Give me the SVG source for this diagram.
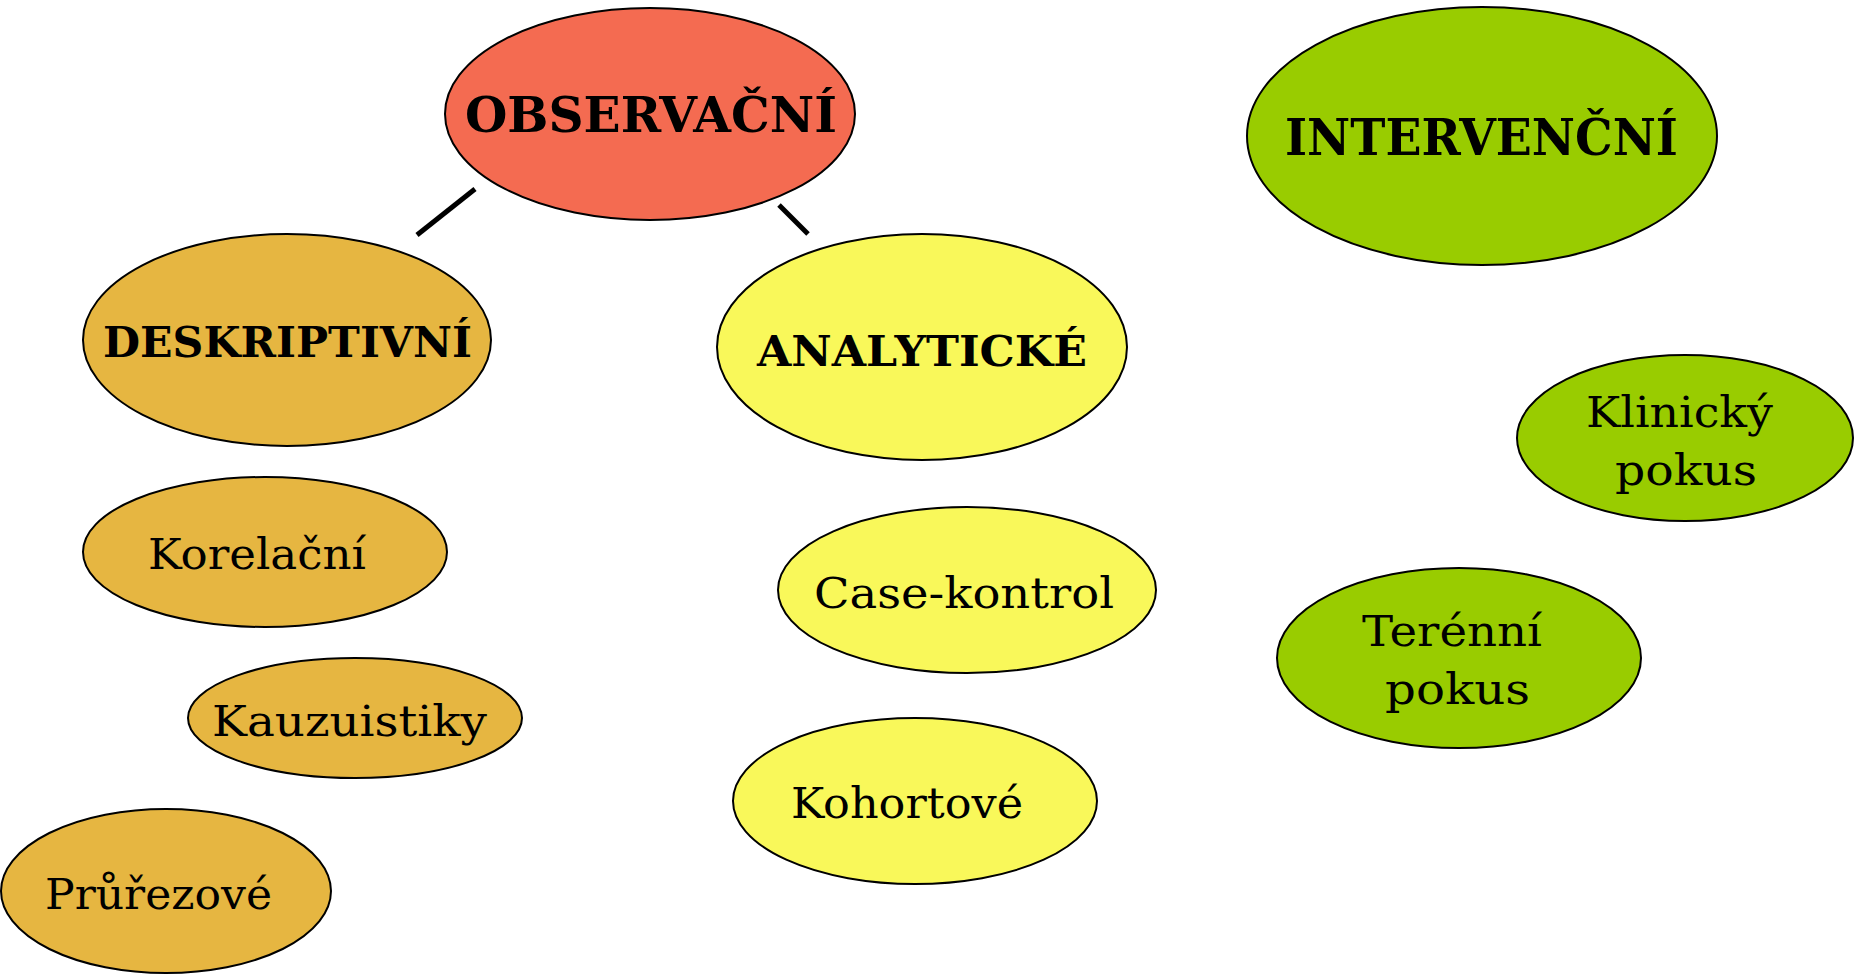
<svg xmlns="http://www.w3.org/2000/svg" width="1861" height="974" viewBox="0 0 1861 974">
<style>
.n{stroke:#000;stroke-width:2}
.red{fill:#F46B51}
.grn{fill:#99CC00}
.gold{fill:#E6B641}
.yel{fill:#F9F85A}
.b{font-family:"DejaVu Serif","Liberation Serif",serif;font-weight:bold;fill:#000}
.r{font-family:"DejaVu Serif","Liberation Serif",serif;font-size:42px;fill:#000}
.c{stroke:#000;stroke-width:5;fill:none}
</style>
<rect width="1861" height="974" fill="#fff"/>
<g id="connectors">
<line class="c" x1="475" y1="189" x2="417" y2="235"/>
<line class="c" x1="779" y1="205" x2="808" y2="234"/>
</g>
<g id="observacni">
<ellipse class="n red" cx="650" cy="114" rx="205" ry="106"/>
<text class="b" x="465" y="132" font-size="48" textLength="372" lengthAdjust="spacingAndGlyphs">OBSERVAČNÍ</text>
</g>
<g id="intervencni">
<ellipse class="n grn" cx="1482" cy="136" rx="235" ry="129"/>
<text class="b" x="1285" y="155" font-size="50" textLength="393" lengthAdjust="spacingAndGlyphs">INTERVENČNÍ</text>
</g>
<g id="deskriptivni">
<ellipse class="n gold" cx="287" cy="340" rx="204" ry="106"/>
<text class="b" x="103" y="357" font-size="42" textLength="369" lengthAdjust="spacingAndGlyphs">DESKRIPTIVNÍ</text>
</g>
<g id="analyticke">
<ellipse class="n yel" cx="922" cy="347" rx="205" ry="113"/>
<text class="b" x="757" y="366" font-size="42" textLength="330" lengthAdjust="spacingAndGlyphs">ANALYTICKÉ</text>
</g>
<g id="korelacni">
<ellipse class="n gold" cx="265" cy="552" rx="182" ry="75"/>
<text class="r" x="148" y="569" textLength="218" lengthAdjust="spacingAndGlyphs">Korelační</text>
</g>
<g id="kauzuistiky">
<ellipse class="n gold" cx="355" cy="718" rx="167" ry="60"/>
<text class="r" x="212" y="736" textLength="275" lengthAdjust="spacingAndGlyphs">Kauzuistiky</text>
</g>
<g id="prurezove">
<ellipse class="n gold" cx="166" cy="891" rx="165" ry="82"/>
<text class="r" x="45" y="909" textLength="227" lengthAdjust="spacingAndGlyphs">Průřezové</text>
</g>
<g id="case-kontrol">
<ellipse class="n yel" cx="967" cy="590" rx="189" ry="83"/>
<text class="r" x="814" y="608" textLength="300" lengthAdjust="spacingAndGlyphs">Case-kontrol</text>
</g>
<g id="kohortove">
<ellipse class="n yel" cx="915" cy="801" rx="182" ry="83"/>
<text class="r" x="791" y="818" textLength="232" lengthAdjust="spacingAndGlyphs">Kohortové</text>
</g>
<g id="klinicky-pokus">
<ellipse class="n grn" cx="1685" cy="438" rx="168" ry="83"/>
<text class="r" x="1586" y="427" textLength="187" lengthAdjust="spacingAndGlyphs">Klinický</text>
<text class="r" x="1615" y="485" textLength="142" lengthAdjust="spacingAndGlyphs">pokus</text>
</g>
<g id="terenni-pokus">
<ellipse class="n grn" cx="1459" cy="658" rx="182" ry="90"/>
<text class="r" x="1362" y="646" textLength="180" lengthAdjust="spacingAndGlyphs">Terénní</text>
<text class="r" x="1385" y="704" textLength="145" lengthAdjust="spacingAndGlyphs">pokus</text>
</g>
</svg>
